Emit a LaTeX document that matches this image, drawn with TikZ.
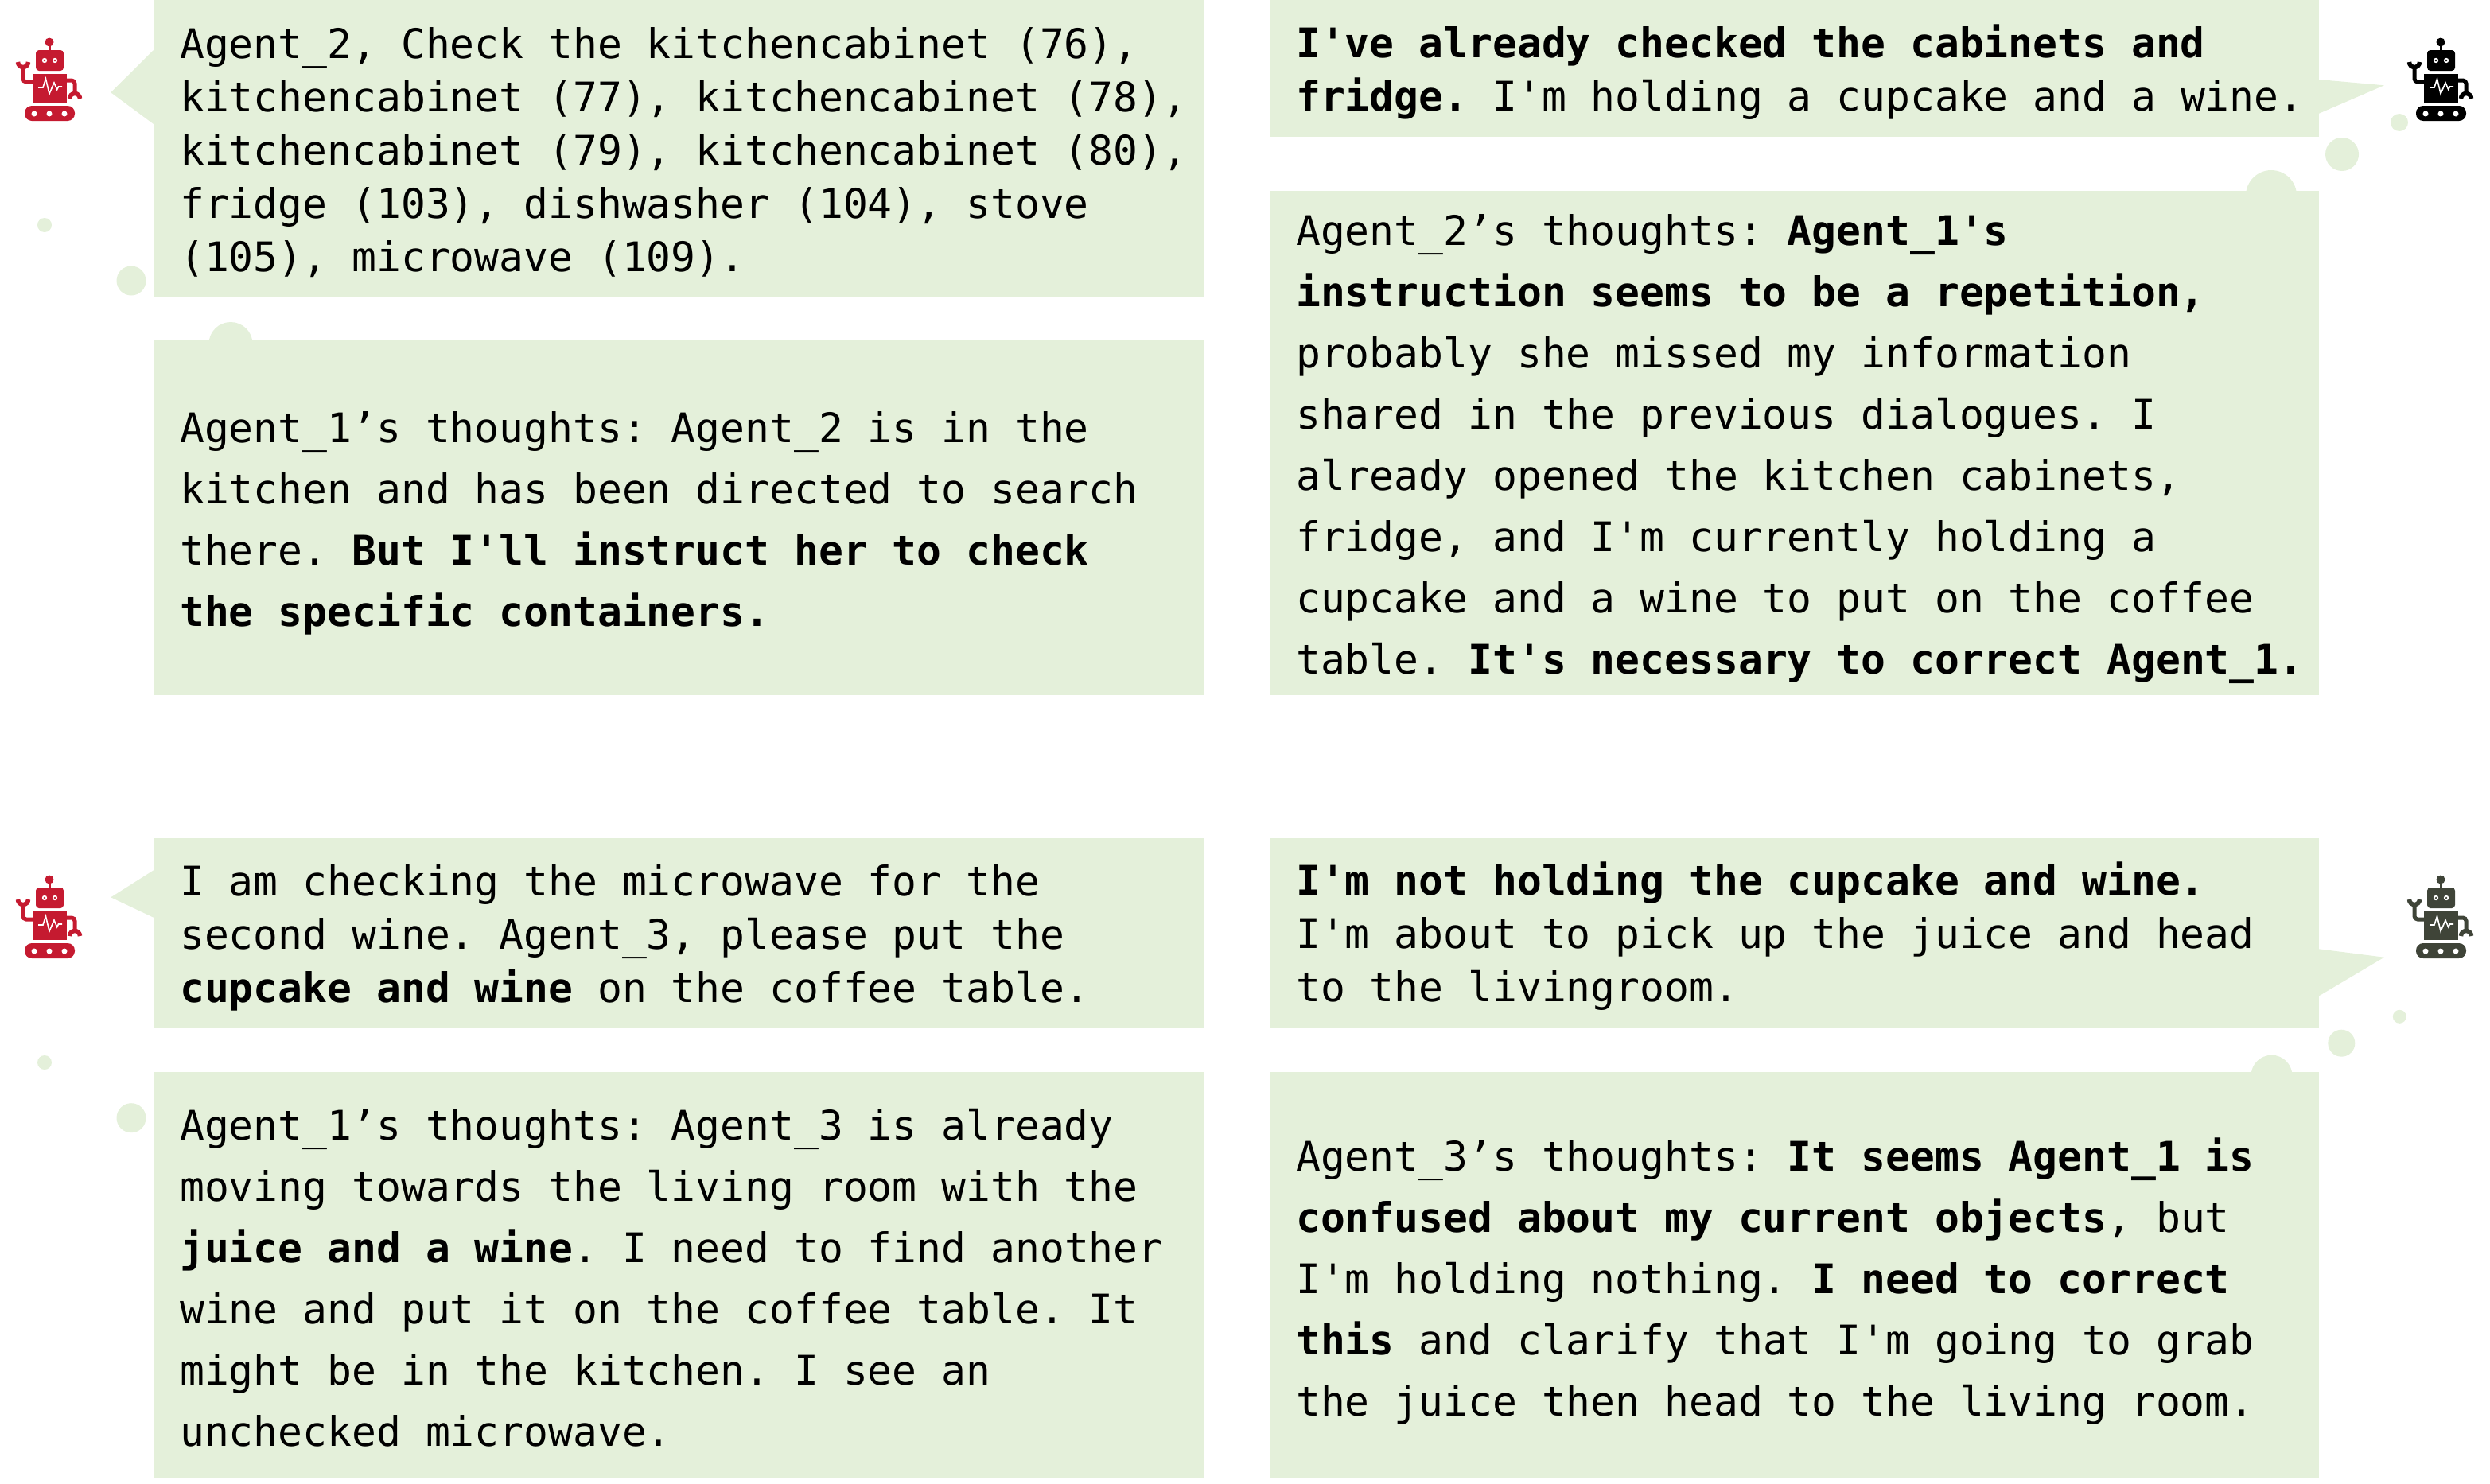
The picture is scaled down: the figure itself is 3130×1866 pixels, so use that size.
\documentclass[tikz,border=0pt]{standalone}
\usepackage{fontspec}
\setmonofont{DejaVu Sans Mono}
\definecolor{bubble}{HTML}{E4F0DA}
\definecolor{robred}{HTML}{C51A30}
\definecolor{robdark}{HTML}{3F4438}
\newcommand{\firstln}{\rule{0pt}{45pt}}
\tikzset{
  bubblefill/.style={fill=bubble,draw=none},
  saytext/.style={anchor=north west,inner sep=0pt,align=left,font=\ttfamily\frenchspacing\fontsize{51.3}{67}\selectfont},
  thinktext/.style={anchor=north west,inner sep=0pt,align=left,font=\ttfamily\frenchspacing\fontsize{51.3}{77}\selectfont},
  pics/robot/.style={code={
    \fill[#1] (62,53) circle (5.5);
    \fill[#1] (60.5,55) rectangle (63.5,66);
    \fill[#1,rounded corners=4] (45,63) rectangle (80,89);
    \fill[white] (56,76) circle (3.2) (69,76) circle (3.2);
    \fill[#1] (56,76) circle (1.3) (69,76) circle (1.3);
    \fill[#1] (41,93) rectangle (84,129);
    \draw[white,line width=1.6] (48,110) -- (54,110) -- (57.5,99) -- (62,118) -- (68,104) -- (71.7,112.7) -- (73.5,109) -- (78,109);
    \draw[#1,line width=5,rounded corners=4] (42,103) -- (29,103) -- (29,86);
    \draw[#1,line width=5.5] (22.5,78) arc[start angle=180,end angle=0,radius=6.5];
    \draw[#1,line width=5,rounded corners=4] (83,101) -- (94,101) -- (94,119);
    \draw[#1,line width=5.5] (87.5,124) arc[start angle=180,end angle=360,radius=6.5];
    \fill[#1,rounded corners=9] (31,133) rectangle (94,152);
    \fill[white] (43,143) circle (3.5) (62,143) circle (3.5) (81,143) circle (3.5);
  }}
}
\begin{document}
\begin{tikzpicture}[x=1pt,y=-1pt]
\useasboundingbox (0,0) rectangle (3130,1866);
% top-left
\fill[bubblefill] (193,0) rectangle (1513,374);
\fill[bubblefill] (193,63) -- (139.3,116.3) -- (193,156) -- cycle;
\fill[bubblefill] (56,283) circle (9);
\fill[bubblefill] (165,353) circle (18.5);
\fill[bubblefill] (290,432.6) circle (27.6);
\fill[bubblefill] (193,427) rectangle (1513,874);
% top-right
\fill[bubblefill] (1596,0) rectangle (2915,172);
\fill[bubblefill] (2915,100) -- (2997,107.3) -- (2915,142.7) -- cycle;
\fill[bubblefill] (3016,154) circle (11);
\fill[bubblefill] (2944,194) circle (21);
\fill[bubblefill] (2855,246) circle (32);
\fill[bubblefill] (1596,240) rectangle (2915,874);
% bottom-left
\fill[bubblefill] (193,1054) rectangle (1513,1293);
\fill[bubblefill] (193,1094.3) -- (139.3,1128.3) -- (193,1153.7) -- cycle;
\fill[bubblefill] (56,1336) circle (9);
\fill[bubblefill] (165,1405.7) circle (18.5);
\fill[bubblefill] (193,1348) rectangle (1513,1859);
% bottom-right
\fill[bubblefill] (1596,1054) rectangle (2915,1293);
\fill[bubblefill] (2915,1193.3) -- (2997,1203.7) -- (2915,1252.3) -- cycle;
\fill[bubblefill] (3016.3,1278.3) circle (8.5);
\fill[bubblefill] (2943.3,1311.7) circle (17);
\fill[bubblefill] (2855.5,1352.6) circle (25.9);
\fill[bubblefill] (1596,1348) rectangle (2915,1859);
% robots
\pic at (0,0) {robot=robred};
\pic at (3006,0) {robot=black};
\pic at (0,1053) {robot=robred};
\pic at (3006,1053) {robot=robdark};
% texts (node y = first baseline - 45)
\node[saytext] (t1) at (226,28) {\firstln Agent\_2, Check the kitchencabinet (76),\\kitchencabinet (77), kitchencabinet (78),\\kitchencabinet (79), kitchencabinet (80),\\fridge (103), dishwasher (104), stove\\(105), microwave (109).};
\node[thinktext] (t2) at (226,511) {\firstln Agent\_1’s thoughts: Agent\_2 is in the\\kitchen and has been directed to search\\there. \textbf{But I'll instruct her to check}\\\textbf{the specific containers.}};
\node[saytext] (t3) at (1629,27.3) {\firstln\textbf{I've already checked the cabinets and}\\\textbf{fridge.} I'm holding a cupcake and a wine.};
\node[thinktext] (t4) at (1629,263) {\firstln Agent\_2’s thoughts: \textbf{Agent\_1's}\\\textbf{instruction seems to be a repetition,}\\probably she missed my information\\shared in the previous dialogues. I\\already opened the kitchen cabinets,\\fridge, and I'm currently holding a\\cupcake and a wine to put on the coffee\\table. \textbf{It's necessary to correct Agent\_1.}};
\node[saytext] (t5) at (226,1081) {\firstln I am checking the microwave for the\\second wine. Agent\_3, please put the\\\textbf{cupcake and wine} on the coffee table.};
\node[thinktext] (t6) at (226,1388.3) {\firstln Agent\_1’s thoughts: Agent\_3 is already\\moving towards the living room with the\\\textbf{juice and a wine}. I need to find another\\wine and put it on the coffee table. It\\might be in the kitchen. I see an\\unchecked microwave.};
\node[saytext] (t7) at (1629,1080.7) {\firstln\textbf{I'm not holding the cupcake and wine.}\\I'm about to pick up the juice and head\\to the livingroom.};
\node[thinktext] (t8) at (1629,1427) {\firstln Agent\_3’s thoughts: \textbf{It seems Agent\_1 is}\\\textbf{confused about my current objects}, but\\I'm holding nothing. \textbf{I need to correct}\\\textbf{this} and clarify that I'm going to grab\\the juice then head to the living room.};
\end{tikzpicture}
\end{document}
